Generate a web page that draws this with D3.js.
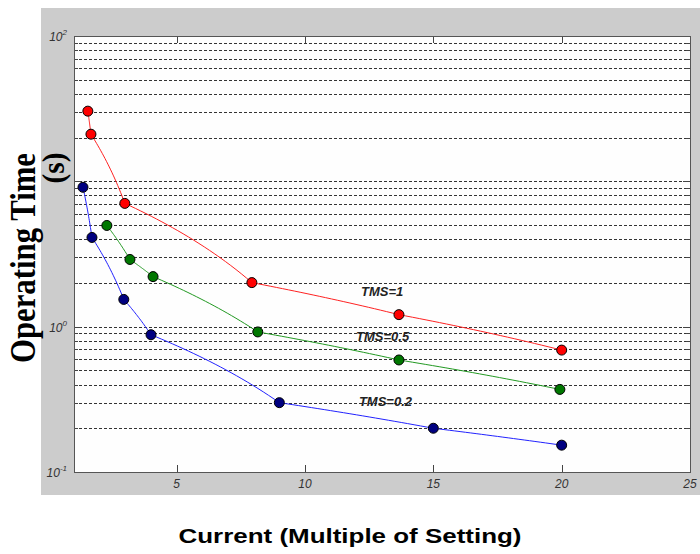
<!DOCTYPE html>
<html>
<head>
  <meta charset="UTF-8">
  <style>
    body {
      margin: 0;
      background: #fff;
    }
    .tick-label {
      font-family: 'Liberation Sans', Arial, sans-serif;
      font-style: italic;
      font-size: 12px;
      fill: #333;
    }
    .series-label {
      font-family: 'Liberation Sans', Arial, sans-serif;
      font-style: italic;
      font-weight: bold;
      font-size: 13px;
      fill: #222;
    }
  </style>
  <script src="https://d3js.org/d3.v7.min.js"></script>
</head>
<body>
<svg id="chart" width="700" height="554"></svg>
<script>
// Current (multiple of setting) and operating time (s) per TMS curve
const tms1X = [1.54, 1.66, 2.98, 7.93, 13.66, 20];
const tms1Y = [30.4, 21.1, 7.05, 2.01, 1.21, 0.69];

const tms05X = [2.28, 3.18, 4.08, 8.16, 13.66, 19.93];
const tms05Y = [4.97, 2.90, 2.21, 0.92, 0.59, 0.37];

const tms02X = [1.35, 1.70, 2.94, 4.0, 9.0, 15.0, 20];
const tms02Y = [9.1, 4.11, 1.54, 0.88, 0.30, 0.20, 0.153];

const xTicks = [5, 10, 15, 20, 25];
const yDecades = [-1, 0, 2];

const series = [
  {name: 'TMS=1', xs: tms1X, ys: tms1Y, line: '#ff2222', fill: '#ff0000', lx: 12.18, ly: 1.63},
  {name: 'TMS=0.5', xs: tms05X, ys: tms05Y, line: '#229922', fill: '#007700', lx: 11.99, ly: 0.80},
  {name: 'TMS=0.2', xs: tms02X, ys: tms02Y, line: '#2222ff', fill: '#000080', lx: 12.1, ly: 0.286}
];

const svg = d3.select('#chart');
const W = 700;
const plot = {left: 74, right: 690, top: 36, bottom: 472};

// gray figure background
svg.append('rect')
  .attr('x', 41).attr('y', 8)
  .attr('width', W - 41).attr('height', 495 - 8)
  .attr('fill', '#cccccc');

svg.append('rect')
  .attr('x', plot.left).attr('y', plot.top)
  .attr('width', plot.right - plot.left).attr('height', plot.bottom - plot.top)
  .attr('fill', '#fefefe');

const x = d3.scaleLinear().domain([1, 25]).range([plot.left, plot.right]);
const y = d3.scaleLog().domain([0.1, 100]).range([plot.bottom, plot.top]);

// grid lines at every log tick inside the plot
const gridVals = y.ticks().filter(v => v > 0.1 && v < 100);

svg.append('g').selectAll('line')
  .data(gridVals)
  .join('line')
  .attr('x1', plot.left).attr('x2', plot.right)
  .attr('y1', d => Math.round(y(d)) + 0.5)
  .attr('y2', d => Math.round(y(d)) + 0.5)
  .attr('stroke', '#333')
  .attr('stroke-width', 1)
  .attr('stroke-dasharray', '3,2');

// y ticks on both sides, x ticks top and bottom
const ticksG = svg.append('g').attr('stroke', '#444').attr('stroke-width', 1);
gridVals.forEach(v => {
  const yy = Math.round(y(v)) + 0.5;
  const len = Number.isInteger(Math.log10(v)) ? 7 : 4;
  ticksG.append('line').attr('x1', plot.right - len).attr('x2', plot.right).attr('y1', yy).attr('y2', yy);
  ticksG.append('line').attr('x1', plot.left).attr('x2', plot.left + len).attr('y1', yy).attr('y2', yy);
});
xTicks.forEach(t => {
  const xx = Math.round(x(t)) + 0.5;
  ticksG.append('line').attr('x1', xx).attr('x2', xx).attr('y1', plot.bottom).attr('y2', plot.bottom - 7);
  ticksG.append('line').attr('x1', xx).attr('x2', xx).attr('y1', plot.top).attr('y2', plot.top + 7);
});

// axes box
svg.append('rect')
  .attr('x', plot.left + 0.5).attr('y', plot.top + 0.5)
  .attr('width', plot.right - plot.left).attr('height', plot.bottom - plot.top)
  .attr('fill', 'none')
  .attr('stroke', '#555')
  .attr('stroke-width', 1);

// x tick labels
svg.append('g').selectAll('text')
  .data(xTicks)
  .join('text')
  .attr('class', 'tick-label')
  .attr('x', d => x(d))
  .attr('y', plot.bottom + 16)
  .attr('text-anchor', 'middle')
  .text(d => d);

// y tick labels 10^k
const yl = svg.append('g').selectAll('text')
  .data(yDecades)
  .join('text')
  .attr('class', 'tick-label')
  .attr('x', 67)
  .attr('y', d => y(Math.pow(10, d)) + 5)
  .attr('text-anchor', 'end');
yl.append('tspan').text('10');
yl.append('tspan')
  .attr('dy', -6)
  .style('font-size', '8px')
  .text(d => d);

// each segment bows gently between markers (eased in sqrt of time)
function segPath(pts) {
  const out = [];
  for (let i = 0; i < pts.length - 1; i++) {
    const [x0, y0] = pts[i], [x1, y1] = pts[i + 1];
    const s0 = Math.sqrt(y0), s1 = Math.sqrt(y1);
    for (let k = 0; k < 24; k++) {
      const t = k / 24;
      const sv = s0 + (s1 - s0) * t;
      out.push([x(x0 + (x1 - x0) * t), y(sv * sv)]);
    }
  }
  const last = pts[pts.length - 1];
  out.push([x(last[0]), y(last[1])]);
  return d3.line()(out);
}

series.forEach(s => {
  const pts = s.xs.map((v, i) => [v, s.ys[i]]);
  svg.append('path')
    .attr('d', segPath(pts))
    .attr('fill', 'none')
    .attr('stroke', s.line)
    .attr('stroke-width', 1);
  svg.append('g').selectAll('circle')
    .data(pts)
    .join('circle')
    .attr('cx', d => x(d[0]))
    .attr('cy', d => y(d[1]))
    .attr('r', 5)
    .attr('fill', s.fill)
    .attr('stroke', '#000')
    .attr('stroke-width', 1);
  svg.append('text')
    .attr('class', 'series-label')
    .attr('x', x(s.lx))
    .attr('y', y(s.ly))
    .text(s.name);
});

// axis titles
const serif = "'Liberation Serif', 'Times New Roman', serif";
svg.append('text')
  .attr('transform', 'translate(35,258) rotate(-90)')
  .attr('text-anchor', 'middle')
  .attr('textLength', 210)
  .attr('lengthAdjust', 'spacingAndGlyphs')
  .style('font-family', serif)
  .style('font-weight', 'bold')
  .style('font-size', '36px')
  .attr('fill', '#000')
  .text('Operating Time');

svg.append('text')
  .attr('transform', 'translate(64,168) rotate(-90)')
  .attr('text-anchor', 'middle')
  .attr('textLength', 31)
  .attr('lengthAdjust', 'spacingAndGlyphs')
  .style('font-family', serif)
  .style('font-weight', 'bold')
  .style('font-size', '32px')
  .attr('fill', '#000')
  .text('(s)');

svg.append('text')
  .attr('x', 350)
  .attr('y', 543)
  .attr('text-anchor', 'middle')
  .attr('textLength', 343)
  .attr('lengthAdjust', 'spacingAndGlyphs')
  .style('font-family', "'Liberation Sans', Arial, sans-serif")
  .style('font-weight', 'bold')
  .style('font-size', '21px')
  .attr('fill', '#000')
  .text('Current (Multiple of Setting)');
</script>
</body>
</html>
